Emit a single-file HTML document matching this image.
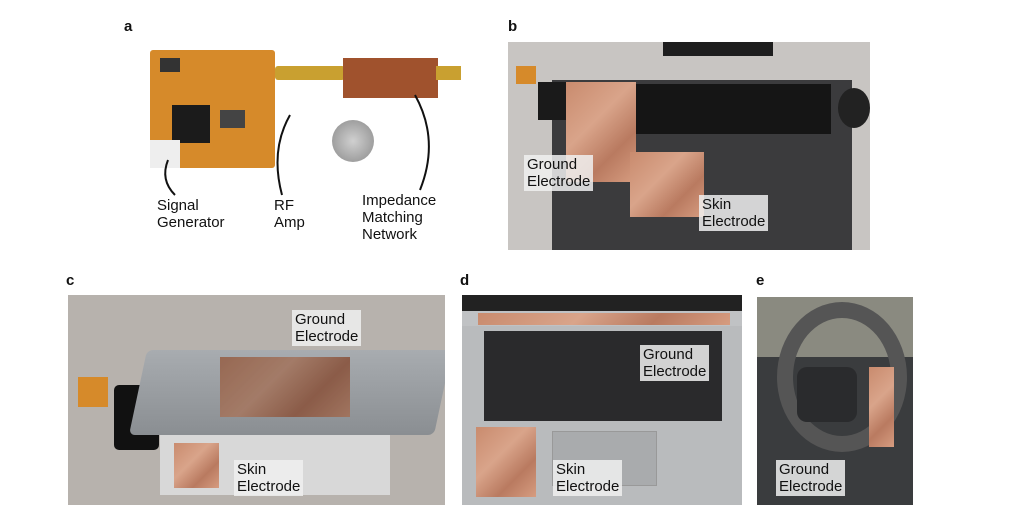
<!DOCTYPE html>
<html><head><meta charset="utf-8"><style>
body{margin:0;width:1015px;height:528px;background:#fff;position:relative;overflow:hidden;font-family:"Liberation Sans",sans-serif}
div{position:absolute;box-sizing:border-box}
.pl{font-weight:bold;font-size:15px;color:#111}
.lab{background:rgba(240,240,240,0.85);font-size:15px;line-height:17px;color:#111;padding:1px 3px}
.t{font-size:15px;line-height:17px;color:#111;background:transparent}
.cu{background:linear-gradient(135deg,#c98b6e,#d9a48a 40%,#b97a60 70%,#d69c80)}
</style></head><body>
<div class="pl" style="left:124px;top:18px">a</div>
<div class="pl" style="left:508px;top:18px">b</div>
<div class="pl" style="left:66px;top:272px">c</div>
<div class="pl" style="left:460px;top:272px">d</div>
<div class="pl" style="left:756px;top:272px">e</div>

<!-- panel a -->
<div style="left:150px;top:50px;width:125px;height:118px;background:#d68a2a;border-radius:3px">
 <div style="left:22px;top:55px;width:38px;height:38px;background:#1b1b1b"></div>
 <div style="left:10px;top:8px;width:20px;height:14px;background:#333"></div>
 <div style="left:70px;top:60px;width:25px;height:18px;background:#444"></div>
 <div style="left:0;top:90px;width:30px;height:28px;background:#eee"></div>
</div>
<div style="left:275px;top:66px;width:70px;height:14px;background:#c9a030;border-radius:3px"></div>
<div style="left:343px;top:58px;width:95px;height:40px;background:#a0522d"></div>
<div style="left:436px;top:66px;width:25px;height:14px;background:#c9a030"></div>
<div style="left:332px;top:120px;width:42px;height:42px;border-radius:50%;background:radial-gradient(#d0d0d0,#8a8a8a)"></div>
<div class="t" style="left:157px;top:197px">Signal<br>Generator</div>
<div class="t" style="left:274px;top:197px">RF<br>Amp</div>
<div class="t" style="left:362px;top:192px">Impedance<br>Matching<br>Network</div>
<svg style="position:absolute;left:0;top:0" width="1015" height="528">
<path d="M175 195 Q160 180 168 160" stroke="#111" stroke-width="2" fill="none"/>
<path d="M282 195 Q270 150 290 115" stroke="#111" stroke-width="2" fill="none"/>
<path d="M420 190 Q440 140 415 95" stroke="#111" stroke-width="2" fill="none"/>
</svg>

<!-- panel b -->
<div style="left:508px;top:42px;width:362px;height:208px;background:#c8c5c2;overflow:hidden">
 <div style="left:155px;top:0;width:110px;height:14px;background:#1e1e1e"></div>
 <div style="left:44px;top:38px;width:300px;height:175px;background:#3b3b3d"></div>
 <div style="left:128px;top:42px;width:195px;height:50px;background:#151515"></div>
 <div style="left:330px;top:46px;width:32px;height:40px;background:#222;border-radius:50%"></div>
 <div style="left:30px;top:40px;width:28px;height:38px;background:#1a1a1a"></div>
 <div style="left:8px;top:24px;width:20px;height:18px;background:#d68a2a"></div>
 <div class="cu" style="left:58px;top:40px;width:70px;height:100px"></div>
 <div class="cu" style="left:122px;top:110px;width:74px;height:65px"></div>
</div>
<div class="lab" style="left:524px;top:155px">Ground<br>Electrode</div>
<div class="lab" style="left:699px;top:195px">Skin<br>Electrode</div>

<!-- panel c -->
<div style="left:68px;top:295px;width:377px;height:210px;background:#b7b2ad;overflow:hidden">
 <div style="left:92px;top:130px;width:230px;height:70px;background:#d8d8d8"></div>
 <div style="left:46px;top:90px;width:45px;height:65px;background:#111;border-radius:5px"></div>
 <div style="left:10px;top:82px;width:30px;height:30px;background:#d68a2a"></div>
 <div style="left:70px;top:55px;width:305px;height:85px;background:linear-gradient(#a8acb0,#8a8e92);transform:skewX(-12deg);border-radius:6px"></div>
 <div class="cu" style="left:152px;top:62px;width:130px;height:60px;filter:brightness(0.75)"></div>
 <div class="cu" style="left:106px;top:148px;width:45px;height:45px"></div>
</div>
<div class="lab" style="left:292px;top:310px">Ground<br>Electrode</div>
<div class="lab" style="left:234px;top:460px">Skin<br>Electrode</div>

<!-- panel d -->
<div style="left:462px;top:295px;width:280px;height:210px;background:#b9bbbd;overflow:hidden">
 <div style="left:0;top:0;width:280px;height:16px;background:#222"></div>
 <div style="left:0;top:16px;width:280px;height:15px;background:#c0c2c4"></div>
 <div class="cu" style="left:16px;top:18px;width:252px;height:12px"></div>
 <div style="left:22px;top:36px;width:238px;height:90px;background:#2a2a2c"></div>
 <div style="left:90px;top:136px;width:105px;height:55px;background:#a9abad;border:1px solid #999"></div>
 <div class="cu" style="left:14px;top:132px;width:60px;height:70px"></div>
</div>
<div class="lab" style="left:640px;top:345px">Ground<br>Electrode</div>
<div class="lab" style="left:553px;top:460px">Skin<br>Electrode</div>

<!-- panel e -->
<div style="left:757px;top:297px;width:156px;height:208px;background:#3a3c3e;overflow:hidden">
 <div style="left:0;top:0;width:156px;height:60px;background:#8a8a80"></div>
 <div style="left:20px;top:5px;width:130px;height:150px;border:16px solid #555;border-radius:50%"></div>
 <div style="left:40px;top:70px;width:60px;height:55px;background:#2a2b2d;border-radius:10px"></div>
 <div class="cu" style="left:112px;top:70px;width:25px;height:80px"></div>
</div>
<div class="lab" style="left:776px;top:460px">Ground<br>Electrode</div>
</body></html>
